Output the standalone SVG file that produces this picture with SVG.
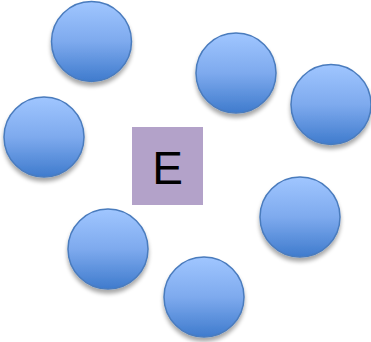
<svg xmlns="http://www.w3.org/2000/svg" width="371" height="342" viewBox="0 0 371 342">
<defs>
<linearGradient id="g" x1="0" y1="0" x2="0" y2="1">
<stop offset="0" stop-color="#a0c6ff"/>
<stop offset="0.5" stop-color="#7eaaee"/>
<stop offset="1" stop-color="#3f7bcd"/>
</linearGradient>
<filter id="sh" x="-20%" y="-20%" width="140%" height="150%">
<feGaussianBlur in="SourceAlpha" stdDeviation="2"/>
<feOffset dx="0" dy="4" result="b"/>
<feComponentTransfer><feFuncA type="linear" slope="0.35"/></feComponentTransfer>
<feMerge><feMergeNode/><feMergeNode in="SourceGraphic"/></feMerge>
</filter>
</defs>
<style>
.n{fill:url(#g);stroke:#4a7bbd;stroke-width:1.5;filter:url(#sh)}
.t{font-family:"Liberation Sans",Arial,sans-serif;font-size:46px;fill:#000;text-anchor:middle}
</style>
<rect width="371" height="342" fill="#fff"/>
<g id="connectors"/>
<g id="n1"><circle class="n" cx="91.5" cy="41.5" r="40"/></g>
<g id="n2"><circle class="n" cx="236" cy="73" r="40"/></g>
<g id="n3"><circle class="n" cx="331" cy="104.5" r="40"/></g>
<g id="n4"><circle class="n" cx="44" cy="137" r="40"/></g>
<g id="n5"><circle class="n" cx="300" cy="217" r="40"/></g>
<g id="n6"><circle class="n" cx="108" cy="249" r="40"/></g>
<g id="n7"><circle class="n" cx="204" cy="297" r="40"/></g>
<g id="E"><rect x="132" y="127" width="71" height="78" fill="#b3a2c9"/><text class="t" x="167.5" y="184">E</text></g>
</svg>
